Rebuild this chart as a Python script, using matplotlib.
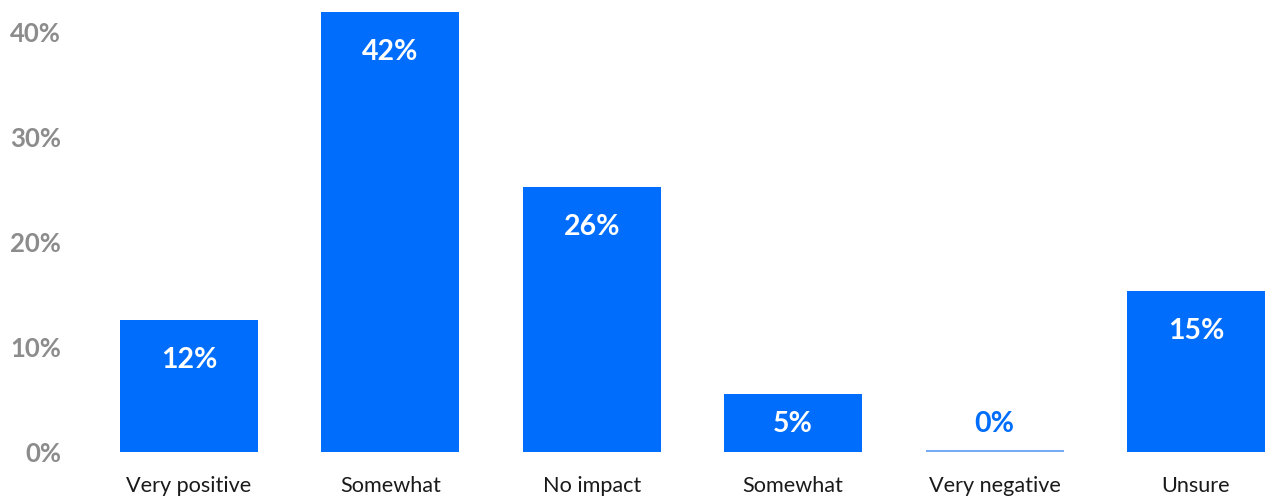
import numpy as np
import matplotlib
matplotlib.use('Agg')
import matplotlib.pyplot as plt

categories = ['Very positive', 'Somewhat', 'No impact', 'Somewhat', 'Very negative', 'Unsure']
values = [12.6, 41.9, 25.2, 5.5, 0.0, 15.3]
value_labels = ['12%', '42%', '26%', '5%', '0%', '15%']
yticks = [0, 10, 20, 30, 40]

blue = '#006DFC'
plt.rcParams['font.family'] = ['Lato', 'DejaVu Sans']

fig = plt.figure(figsize=(12.67, 4.98), dpi=100)
ax = fig.add_axes([100 / 1267, 46 / 498, 1167 / 1267, 452 / 498])

x = np.arange(len(categories))
w = 0.685
ax.bar(x, values, width=w, color=blue, zorder=2)

# zero values get a thin baseline stroke
for xi, v in zip(x, values):
    if v == 0:
        ax.hlines(0.12, xi - w / 2, xi + w / 2, color='#5A9BF6', lw=1.2, zorder=3)

for xi, v, lab in zip(x, values, value_labels):
    ly = max(v - 3.8, 2.7)
    col = 'white' if v > 0 else blue
    ax.text(xi, ly, lab, ha='center', va='center', color=col,
            fontsize=20.5, fontweight='bold', zorder=4)

ax.set_xlim(-0.442, 5.353)
ax.set_ylim(0, 43.05)
ax.set_xticks(x)
ax.set_xticklabels(categories, fontsize=15.6, color='#1a1a1a')
ax.set_yticks(yticks)
ax.set_yticklabels([f'{t}%' for t in yticks], fontsize=18.5, color='#8C8C8C', fontweight='bold')
ax.tick_params(axis='both', length=0)
ax.tick_params(axis='x', pad=17)
ax.tick_params(axis='y', pad=28)
for s in ax.spines.values():
    s.set_visible(False)

fig.savefig('out.png', dpi=100)
